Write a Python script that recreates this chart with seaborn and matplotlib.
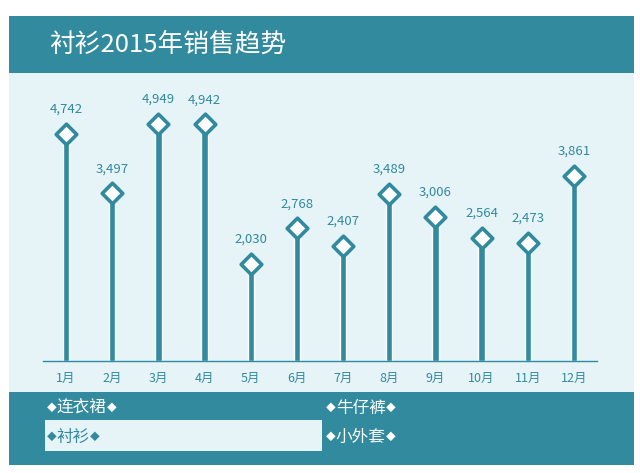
import pandas as pd
import numpy as np
import matplotlib
matplotlib.use("Agg")
import matplotlib.pyplot as plt
from matplotlib.patches import Rectangle
import seaborn as sns

months = ["1月", "2月", "3月", "4月", "5月", "6月", "7月", "8月", "9月", "10月", "11月", "12月"]
sales = [4742, 3497, 4949, 4942, 2030, 2768, 2407, 3489, 3006, 2564, 2473, 3861]
title = "衬衫2015年销售趋势"
legend_items = ["连衣裙", "牛仔裤", "衬衫", "小外套"]
selected = "衬衫"

TEAL = "#318a9e"
LIGHT = "#e6f4f8"
W, H = 640, 473

sns.set_style("white")
plt.rcParams['font.family'] = ['Noto Sans CJK SC', 'DejaVu Sans']

df = pd.DataFrame({"month": months, "sales": sales})

fig = plt.figure(figsize=(6.4, 4.73), dpi=100)
fig.patch.set_facecolor("white")
renderer = fig.canvas.get_renderer()


def box(x0, y0, x1, y1, color):
    # pixel coords from top-left -> figure fraction
    fig.patches.append(Rectangle((x0 / W, 1 - y1 / H), (x1 - x0) / W, (y1 - y0) / H,
                                 transform=fig.transFigure, facecolor=color,
                                 edgecolor="none", zorder=-5))


box(9, 16, 634, 73, TEAL)
box(9, 73, 634, 392, LIGHT)
box(9, 392, 634, 465, TEAL)
box(45, 420, 322, 451, LIGHT)

fig.text(49 / W, 1 - 45 / H, title, color="white", fontsize=18.5,
         va="center", ha="left")

# legend-ish panel, small diamonds on both sides of each name
pos = [(47, 408), (326, 408), (47, 437), (326, 437)]
for item, (px, py) in zip(legend_items, pos):
    c = TEAL if item == selected else "white"
    x = px
    for piece, fs in [("◆", 7), (item, 12), ("◆", 7)]:
        t = fig.text(x / W, 1 - py / H, piece, color=c, fontsize=fs, va="center", ha="left")
        x += t.get_window_extent(renderer).width

# axes: x 43..597, y 80..361
ax = fig.add_axes([43 / W, 1 - 361 / H, (597 - 43) / W, (361 - 80) / H])
ax.set_facecolor("none")
ax.set_zorder(2)

sns.barplot(data=df, x="month", y="sales", color=TEAL, width=0.14, saturation=1, ax=ax, zorder=2)
sns.scatterplot(data=df, x="month", y="sales", marker="D", s=110, color="white",
                edgecolor=TEAL, linewidth=2.6, ax=ax, zorder=3, legend=False)

for i, v in enumerate(sales):
    ax.annotate(f"{v:,}", (i, v), xytext=(0, 13), textcoords="offset points",
                ha="center", va="bottom", color=TEAL, fontsize=9.5)

ax.set_xlim(-0.5, 11.5)
ax.set_ylim(0, 5866)
ax.set_xlabel("")
ax.set_ylabel("")
ax.set_yticks([])
for s in ["top", "right", "left"]:
    ax.spines[s].set_visible(False)
ax.spines["bottom"].set_color(TEAL)
ax.spines["bottom"].set_linewidth(1)
ax.tick_params(axis="x", length=0, pad=8, colors=TEAL, labelsize=9)

fig.savefig("out.png", dpi=100, facecolor="white")
